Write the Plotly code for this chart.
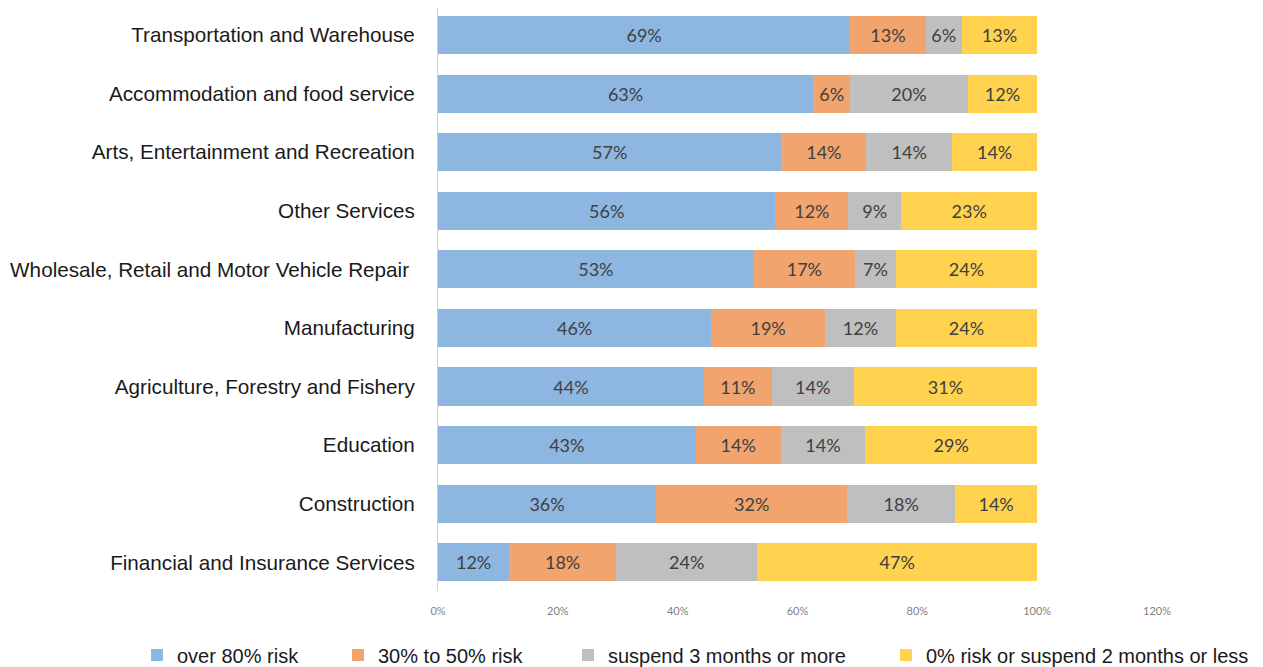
import plotly.graph_objects as go

# 行业 (从上到下)
industries = [
    "Transportation and Warehouse",
    "Accommodation and food service",
    "Arts, Entertainment and Recreation",
    "Other Services",
    "Wholesale, Retail and Motor Vehicle Repair ",
    "Manufacturing",
    "Agriculture, Forestry and Fishery",
    "Education",
    "Construction",
    "Financial and Insurance Services",
]

# 各风险档位占比 (%)
over_80 = [68.8, 62.6, 57.3, 56.3, 52.7, 45.6, 44.4, 43.0, 36.4, 11.9]
risk_30_50 = [12.6, 6.2, 14.2, 12.2, 16.9, 19.0, 11.3, 14.2, 31.9, 17.8]
suspend_3m = [6.0, 19.6, 14.3, 8.8, 6.8, 11.8, 13.7, 14.1, 18.0, 23.6]
low_risk = [12.6, 11.6, 14.2, 22.7, 23.6, 23.6, 30.6, 28.7, 13.7, 46.7]

series = [
    ("over 80% risk", over_80, "#8DB6E1"),
    ("30% to 50% risk", risk_30_50, "#F1A46E"),
    ("suspend 3 months or more", suspend_3m, "#BFBFBF"),
    ("0% risk or suspend 2 months or less", low_risk, "#FFD24F"),
]

# 页面 body 有 8px 边距, 图比窗口小 8px
W, H = 1255, 659

# 每个图例单独放置 (container 坐标, 左边缘 px)
legend_left_px = [129, 330, 560, 878]

fig = go.Figure()
legend_layout = {}
for i, (name, vals, color) in enumerate(series):
    key = "legend" if i == 0 else f"legend{i + 1}"
    fig.add_trace(go.Bar(
        y=industries,
        x=vals,
        name=name,
        orientation="h",
        legend=key,
        marker=dict(color=color, line=dict(width=0)),
        texttemplate="%{x:.0f}%",
        textposition="inside",
        insidetextanchor="middle",
        textangle=0,
        constraintext="none",
        textfont=dict(family="Lato, Open Sans, sans-serif", size=18, color="#404040"),
    ))
    legend_layout[key] = dict(
        orientation="h",
        xref="container", yref="container",
        x=legend_left_px[i] / W, xanchor="left",
        y=1 - 647 / H, yanchor="middle",
        bgcolor="rgba(0,0,0,0)",
        font=dict(size=20, color="#1a1a1a"),
    )

fig.update_layout(
    barmode="stack",
    bargap=0.35,
    width=W,
    height=H,
    plot_bgcolor="white",
    paper_bgcolor="white",
    margin=dict(l=430, r=106, t=0, b=76),
    font=dict(family="Liberation Sans, Arial, sans-serif"),
    showlegend=True,
    xaxis=dict(
        range=[0, 120],
        dtick=20,
        ticksuffix="%",
        showgrid=False,
        zeroline=False,
        showline=False,
        automargin=False,
        ticklabelstandoff=12,
        tickfont=dict(family="Lato, Open Sans, sans-serif", size=11, color="#7f7f7f"),
    ),
    yaxis=dict(
        range=[9.49, -0.46],
        showgrid=False,
        showline=True,
        linecolor="#d0d0d0",
        linewidth=1,
        ticks="",
        automargin=False,
        ticklabelstandoff=18,
        tickfont=dict(size=20.7, color="#1a1a1a"),
    ),
    **legend_layout,
)

fig.write_html("out.html")
